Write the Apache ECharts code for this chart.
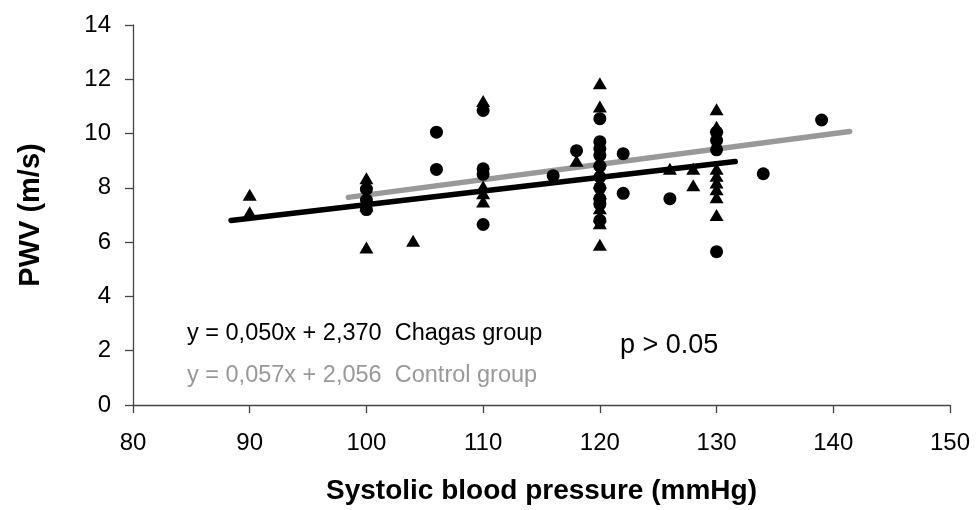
<!DOCTYPE html>
<html>
<head>
<meta charset="utf-8">
<script src="https://cdn.jsdelivr.net/npm/echarts@6/dist/echarts.min.js"></script>
<style>html,body{margin:0;padding:0;background:#fff}#c{width:976px;height:510px}</style>
</head>
<body>
<div id="c"></div>
<script>
// Chagas group (triangles) [SBP, PWV]
var chagasPoints = [
  [90, 7.75], [90, 7.1],
  [100, 8.35], [100, 7.35], [100, 5.8],
  [104, 6.05],
  [110, 11.2], [110, 8.05], [110, 7.8], [110, 7.5],
  [118, 9.0],
  [120, 11.85], [120, 11.0], [120, 9.0], [120, 8.6], [120, 8.2], [120, 7.8], [120, 7.25], [120, 6.95], [120, 6.7], [120, 5.9],
  [126, 8.7], [128, 8.7], [128, 8.1],
  [130, 10.9], [130, 10.25], [130, 8.7], [130, 8.45], [130, 8.2], [130, 7.95], [130, 7.65], [130, 7.0]
];
// Control group (circles) [SBP, PWV]
var controlPoints = [
  [100, 7.95], [100, 7.55], [100, 7.2],
  [106, 10.05], [106, 8.68],
  [110, 10.85], [110, 8.7], [110, 8.5], [110, 6.65],
  [116, 8.45], [118, 9.37],
  [120, 10.55], [120, 9.7], [120, 9.45], [120, 9.2], [120, 8.8], [120, 8.4], [120, 8.0], [120, 7.6], [120, 7.4], [120, 6.8],
  [122, 9.26], [122, 7.8],
  [126, 7.6],
  [130, 10.05], [130, 9.75], [130, 9.4], [130, 5.65],
  [134, 8.52], [139, 10.5]
];
// Trend line endpoints
var chagasTrend = [[88.4, 6.8], [131.6, 8.97]];
var controlTrend = [[98.45, 7.65], [141.4, 10.08]];
var xTicks = [80, 90, 100, 110, 120, 130, 140, 150];
var yTicks = [0, 2, 4, 6, 8, 10, 12, 14];
var chagasLabel = 'y = 0,050x + 2,370  Chagas group';
var controlLabel = 'y = 0,057x + 2,056  Control group';
var pLabel = 'p > 0.05';

var chart = echarts.init(document.getElementById('c'));
var font = 'Liberation Sans, Arial, sans-serif';
chart.setOption({
  animation: false,
  backgroundColor: '#fff',
  grid: {left: 133, right: 26, top: 25, bottom: 105, containLabel: false},
  xAxis: {
    type: 'value', min: xTicks[0], max: xTicks[xTicks.length - 1], interval: 10,
    name: 'Systolic blood pressure (mmHg)', nameLocation: 'middle', nameGap: 72,
    nameTextStyle: {fontFamily: font, fontSize: 28, fontWeight: 'bold', color: '#000'},
    axisLine: {lineStyle: {color: '#444', width: 1.3}},
    axisTick: {length: 8, lineStyle: {color: '#444', width: 1.3}},
    axisLabel: {margin: 26, fontFamily: font, fontSize: 24, color: '#000'},
    splitLine: {show: false}
  },
  yAxis: {
    type: 'value', min: yTicks[0], max: yTicks[yTicks.length - 1], interval: 2,
    name: 'PWV (m/s)', nameLocation: 'middle', nameGap: 88,
    nameTextStyle: {fontFamily: font, fontSize: 29, fontWeight: 'bold', color: '#000'},
    axisLine: {show: true, lineStyle: {color: '#444', width: 1.3}},
    axisTick: {show: true, length: 8, lineStyle: {color: '#444', width: 1.3}},
    axisLabel: {margin: 22, fontFamily: font, fontSize: 24, color: '#000'},
    splitLine: {show: false}
  },
  series: [
    {type: 'line', data: controlTrend, symbol: 'none', lineStyle: {color: '#999', width: 5.5, cap: 'round'}, z: 2},
    {type: 'line', data: chagasTrend, symbol: 'none', lineStyle: {color: '#000', width: 5.5, cap: 'round'}, z: 2},
    {type: 'scatter', data: chagasPoints, symbol: 'triangle', symbolSize: [14, 12], itemStyle: {color: '#000', opacity: 1}, z: 3},
    {type: 'scatter', data: controlPoints, symbol: 'circle', symbolSize: 13, itemStyle: {color: '#000', opacity: 1}, z: 3}
  ],
  graphic: [
    {type: 'text', left: 187, top: 322, style: {text: chagasLabel, fontFamily: font, fontSize: 23.5, fill: '#000'}},
    {type: 'text', left: 187, top: 364, style: {text: controlLabel, fontFamily: font, fontSize: 23.5, fill: '#999'}},
    {type: 'text', left: 620, top: 332, style: {text: pLabel, fontFamily: font, fontSize: 27, fill: '#000'}}
  ]
});
</script>
</body>
</html>
